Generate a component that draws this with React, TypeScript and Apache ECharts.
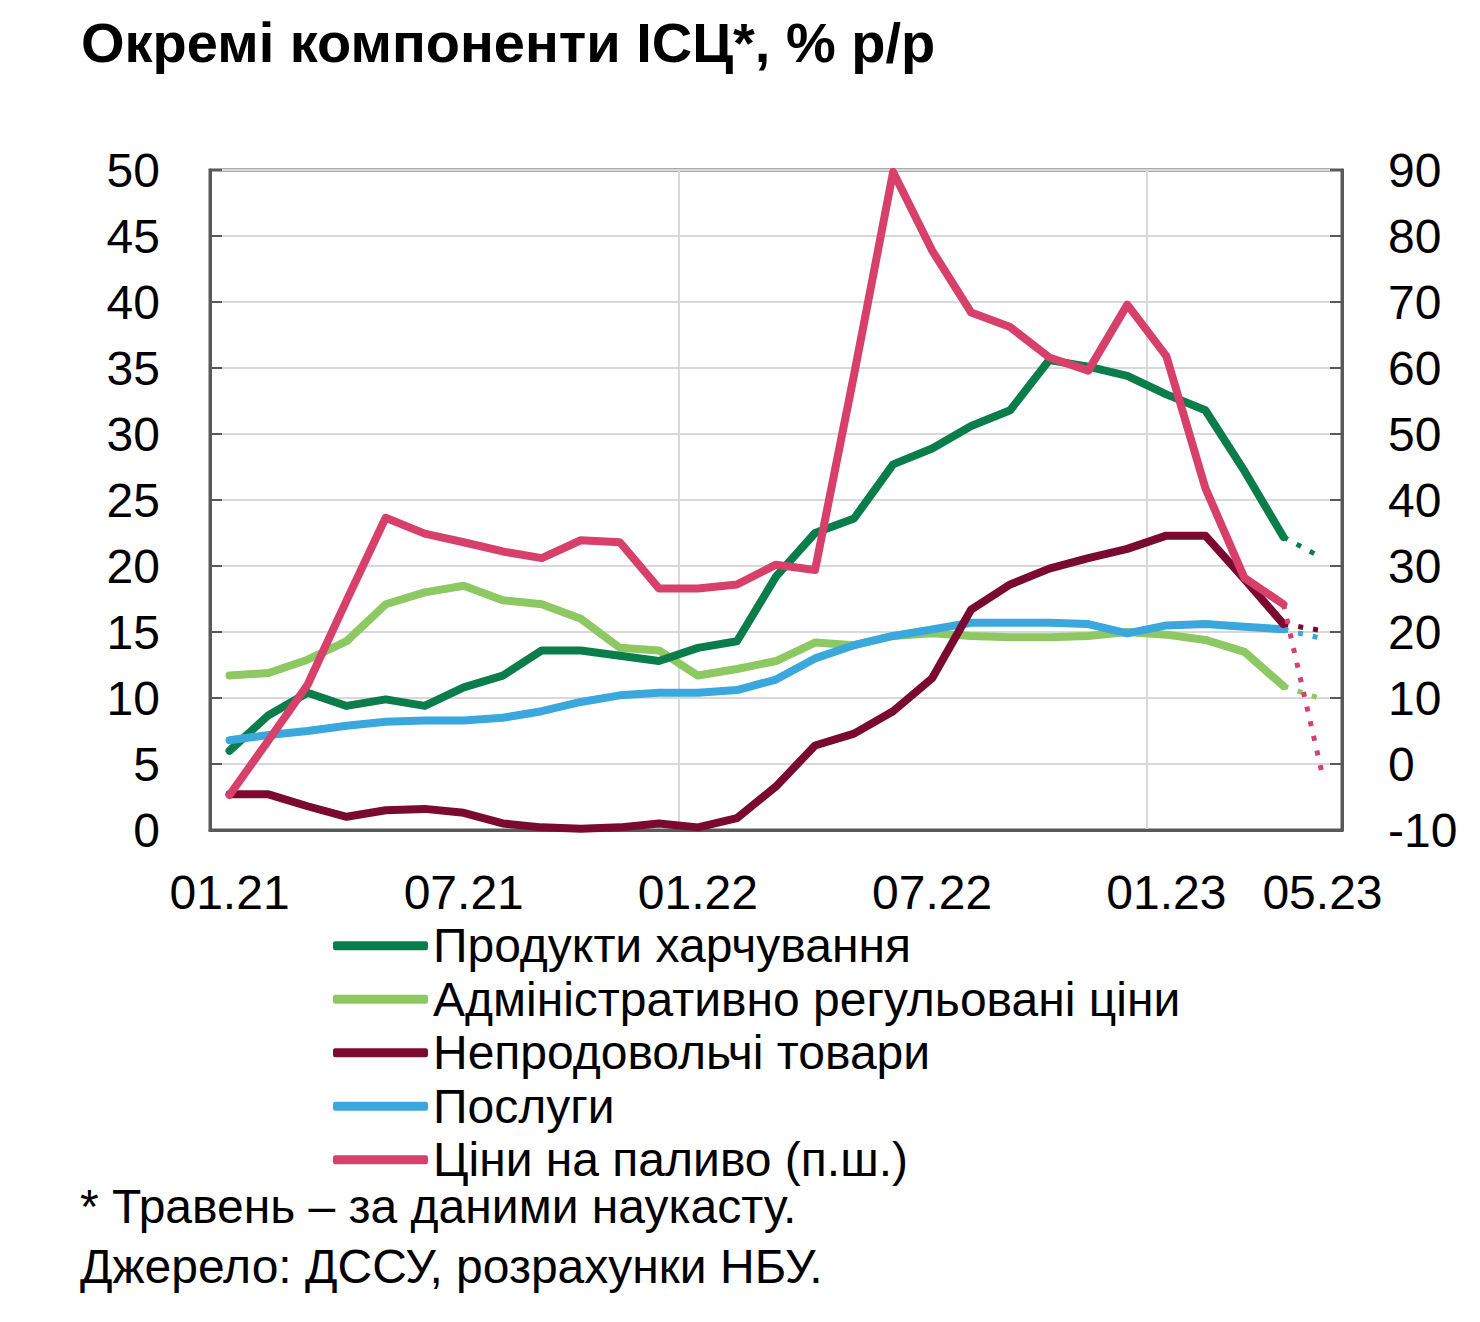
import React, { useEffect, useRef } from "react";
import * as echarts from "echarts";

// місяці: 01.21 ... 05.23 (травень — наукаст)
const months = [
  "01.21", "02.21", "03.21", "04.21", "05.21", "06.21", "07.21", "08.21", "09.21", "10.21", "11.21", "12.21",
  "01.22", "02.22", "03.22", "04.22", "05.22", "06.22", "07.22", "08.22", "09.22", "10.22", "11.22", "12.22",
  "01.23", "02.23", "03.23", "04.23", "05.23",
];

const food = [
  6.0, 8.7, 10.4, 9.4, 9.9, 9.4, 10.8, 11.7, 13.6, 13.6, 13.2, 12.8,
  13.8, 14.3, 19.2, 22.5, 23.6, 27.7, 28.9, 30.6, 31.8, 35.6, 35.1, 34.4,
  33.0, 31.8, 27.2, 22.2, 20.6,
];
const administered = [
  11.7, 11.9, 12.9, 14.3, 17.1, 18.0, 18.5, 17.4, 17.1, 16.0, 13.8, 13.6,
  11.7, 12.2, 12.8, 14.2, 14.0, 14.7, 14.9, 14.7, 14.6, 14.6, 14.7, 15.0,
  14.8, 14.4, 13.5, 10.9, 9.9,
];
const nonFood = [
  2.7, 2.7, 1.8, 1.0, 1.5, 1.6, 1.3, 0.5, 0.2, 0.1, 0.2, 0.5,
  0.2, 0.9, 3.3, 6.4, 7.3, 9.0, 11.5, 16.7, 18.6, 19.8, 20.6, 21.3,
  22.3, 22.3, 19.0, 15.6, 15.1,
];
const services = [
  6.8, 7.2, 7.5, 7.9, 8.2, 8.3, 8.3, 8.5, 9.0, 9.7, 10.2, 10.4,
  10.4, 10.6, 11.4, 13.0, 14.0, 14.7, 15.2, 15.7, 15.7, 15.7, 15.6, 14.9,
  15.5, 15.6, 15.4, 15.2, 14.5,
];
// права шкала
const fuel = [
  -4.7, 3.6, 12.0, 24.8, 37.3, 34.9, 33.6, 32.2, 31.2, 33.9, 33.6, 26.6,
  26.6, 27.2, 30.2, 29.4, 59.0, 89.7, 77.8, 68.4, 66.2, 61.6, 59.6, 69.6,
  61.8, 41.8, 28.2, 24.2, -1.7,
];

const shownLabels = [0, 6, 12, 18, 24, 28];
const yearTicks = [12, 24];
const LAST_SOLID = 27;

const FONT = "'Liberation Sans', Arial, sans-serif";
const AXIS = "#595959";
const TXT = 48;

const seriesDefs = [
  { name: "Адміністративно регульовані ціни", data: administered, color: "#8dc863", right: false },
  { name: "Продукти харчування", data: food, color: "#0b7d4b", right: false },
  { name: "Послуги", data: services, color: "#3aa8dc", right: false },
  { name: "Непродовольчі товари", data: nonFood, color: "#7a0a30", right: false },
  { name: "Ціни на паливо (п.ш.)", data: fuel, color: "#d6406a", right: true },
];

const legendOrder = [
  "Продукти харчування",
  "Адміністративно регульовані ціни",
  "Непродовольчі товари",
  "Послуги",
  "Ціни на паливо (п.ш.)",
];

const App: React.FC = () => {
  const chartRef = useRef<HTMLDivElement>(null);

  useEffect(() => {
    if (!chartRef.current) return;
    const chart = echarts.init(chartRef.current, null, { renderer: "svg" });

    const series: any[] = [];
    seriesDefs.forEach((s) => {
      series.push({
        name: s.name,
        type: "line",
        yAxisIndex: s.right ? 1 : 0,
        data: s.data.map((v, i) => (i <= LAST_SOLID ? v : "-")),
        color: s.color,
        symbol: "none",
        lineStyle: { width: 8, color: s.color, join: "round", cap: "round" },
      });
      // травень — пунктир
      series.push({
        name: s.name + " (наукаст)",
        type: "line",
        yAxisIndex: s.right ? 1 : 0,
        data: s.data.map((v, i) => (i >= LAST_SOLID ? v : "-")),
        color: s.color,
        symbol: "none",
        lineStyle: { width: 5, color: s.color, type: [5, 10] },
      });
    });

    chart.setOption({
      animation: false,
      backgroundColor: "#fff",
      title: {
        text: "Окремі компоненти ІСЦ*, % р/р",
        left: 76,
        top: 9,
        textStyle: { fontSize: 56, fontWeight: "bold", fontFamily: FONT, color: "#000" },
      },
      grid: {
        left: 210,
        right: 138,
        top: 170,
        bottom: 492,
        show: true,
        borderColor: AXIS,
        borderWidth: 3,
      },
      legend: {
        data: legendOrder,
        orient: "vertical",
        left: 328,
        top: 914,
        itemWidth: 95,
        itemHeight: 9,
        itemGap: 0,
        icon: "roundRect",
        textStyle: { fontSize: TXT, fontFamily: FONT, color: "#000", lineHeight: 53.5 },
      },
      xAxis: {
        type: "category",
        data: months,
        boundaryGap: true,
        axisLine: { lineStyle: { color: AXIS, width: 3 } },
        axisTick: {
          inside: true,
          length: 12,
          interval: (i: number) => yearTicks.includes(i),
          lineStyle: { color: AXIS, width: 2 },
        },
        splitLine: {
          show: true,
          interval: (i: number) => yearTicks.includes(i),
          lineStyle: { color: "#d9d9d9", width: 2 },
        },
        axisLabel: {
          interval: (i: number) => shownLabels.includes(i),
          fontSize: TXT,
          fontFamily: FONT,
          color: "#000",
          margin: 38,
        },
      },
      yAxis: [
        {
          type: "value",
          min: 0,
          max: 50,
          interval: 5,
          axisLine: { show: true, lineStyle: { color: AXIS, width: 3 } },
          axisTick: { show: true, inside: true, length: 12, lineStyle: { color: AXIS, width: 2 } },
          splitLine: { lineStyle: { color: "#d9d9d9", width: 2 } },
          axisLabel: { fontSize: TXT, fontFamily: FONT, color: "#000", margin: 50 },
        },
        {
          type: "value",
          min: -10,
          max: 90,
          interval: 10,
          position: "right",
          axisLine: { show: true, lineStyle: { color: AXIS, width: 3 } },
          axisTick: { show: true, inside: true, length: 12, lineStyle: { color: AXIS, width: 2 } },
          splitLine: { show: false },
          axisLabel: { fontSize: TXT, fontFamily: FONT, color: "#000", margin: 46 },
        },
      ],
      graphic: [
        {
          type: "text",
          left: 80,
          top: 1182,
          style: { text: "* Травень – за даними наукасту.", fontSize: TXT, fontFamily: FONT, fill: "#000" },
        },
        {
          type: "text",
          left: 80,
          top: 1242,
          style: { text: "Джерело: ДССУ, розрахунки НБУ.", fontSize: TXT, fontFamily: FONT, fill: "#000" },
        },
      ],
      series,
    });

    return () => {
      chart.dispose();
    };
  }, []);

  return (
    <div
      ref={chartRef}
      style={{ position: "fixed", left: 0, top: 0, width: 1480, height: 1322, background: "#fff" }}
    />
  );
};

export default App;
